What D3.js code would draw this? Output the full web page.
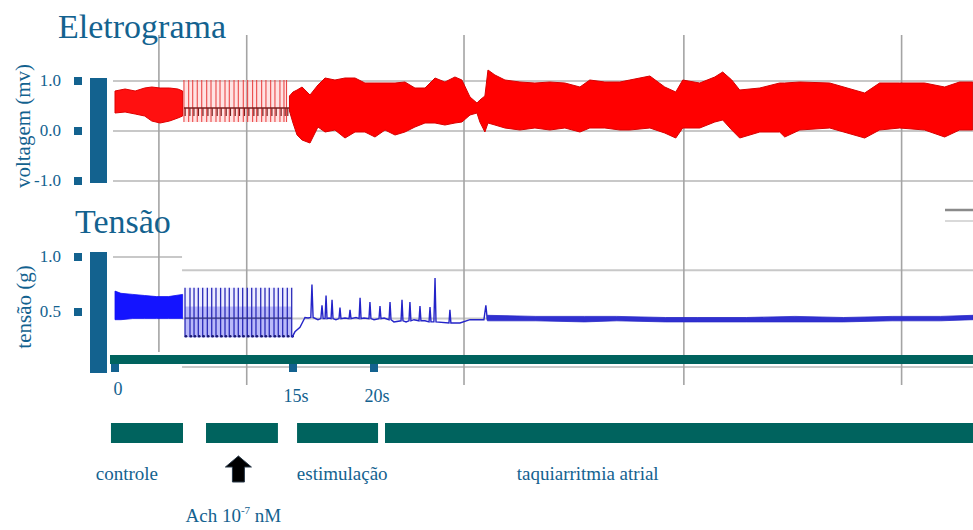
<!DOCTYPE html>
<html>
<head>
<meta charset="utf-8">
<script src="https://cdn.jsdelivr.net/npm/d3@7"></script>
<style>
body{margin:0;background:#fff}
svg{display:block}
</style>
</head>
<body>
<div id="chart"></div>
<script>
const width = 973
const height = 530
const blue = "#13628f"
const teal = "#00635e"
const serif = "'Liberation Serif', 'DejaVu Serif', serif"

// time axis (s)
const timeTicks = [0, 15, 20]
const timeTickLabels = ["0", "15s", "20s"]
const gridTimes = [3.7, 11.1, 25.56, 39.14, 52.59]
const sectionSplit = 5.65

// voltage (mV)
const voltTicks = [1, 0, -1]
const voltTickLabels = ["1.0", "0.0", "-1.0"]
// tension (g)
const tensTicks = [1, 0.5]
const tensTickLabels = ["1.0", "0.5"]
const tensGridLeft = [1]
const tensGridRight = [0.88, 0.44, 0]

// eletrograma envelopes: [t, max, min]
const voltControle = [[0,0.80,0.36],[0.85,0.84,0.38],[1.7,0.80,0.34],[2.5,0.86,0.30],[3.1,0.88,0.20],
  [3.8,0.86,0.16],[4.6,0.86,0.20],[5.3,0.84,0.26],[5.7,0.80,0.30]]
const voltAchSpikes = [5.81,6.21,6.55,6.93,7.31,7.73,8.09,8.51,8.85,9.27,9.63,10.03,10.39,10.81,
  11.18,11.60,11.94,12.36,12.72,13.12,13.48,13.90,14.24,14.46]
const voltStim = [[14.7,0.70,0.40],[15.0,0.78,0.16],[15.25,0.82,-0.08],[15.56,0.88,-0.18],[16.05,0.72,-0.24],
  [16.54,0.92,0.08],[16.98,1.06,-0.02],[17.59,1.02,0.02],[18.21,1.06,-0.14],[18.83,1.06,-0.02],
  [19.44,0.96,-0.02],[20.06,0.96,-0.12],[20.68,0.96,0.02],[21.30,0.96,-0.08],[21.91,0.98,-0.02],
  [22.53,0.86,0.08],[23.15,0.86,0.16],[23.77,1.06,0.16],[24.38,0.98,0.12],[25.0,1.08,0.16],
  [25.43,1.02,0.18],[25.93,0.68,0.32],[26.36,0.56,0.36],[26.54,0.62,0.18],[26.85,0.70,-0.02],
  [27.04,1.22,0.16],[27.47,1.12,0.12],[28.09,1.02,0.06],[29.01,0.98,0.02],[29.94,0.96,0.06],
  [30.86,0.98,0.02],[31.79,0.96,0.06],[32.72,0.88,-0.02],[33.33,1.02,0.06],[34.26,0.98,0.06],
  [35.19,0.98,0.02],[35.80,1.02,0.02],[37.04,1.10,0.06],[37.96,0.88,-0.04],[38.64,0.78,-0.14],
  [39.07,1.02,0.06],[40.12,0.96,0.06],[41.05,1.08,0.18],[41.54,1.18,0.22],[42.10,1.02,0.02],
  [42.59,0.82,-0.14],[43.83,0.86,-0.02],[45.06,0.96,-0.02],[45.37,0.96,-0.12],[46.30,0.98,0.02],
  [48.15,0.96,0.06],[50.31,0.76,-0.14],[51.23,0.96,0.02],[52.47,0.96,0.06],[54.01,0.96,0.02],
  [55.25,0.88,-0.12],[56.17,0.98,0.02],[56.98,0.98,0.02]]

// tensão
const tensControle = [[0,0.69,0.43],[0.5,0.67,0.43],[1.5,0.66,0.44],[2.5,0.65,0.44],[3.5,0.64,0.44],
  [4.5,0.64,0.44],[5.7,0.66,0.44]]
const tensAchSpikes = [5.90,6.32,6.66,7.02,7.39,7.78,8.15,8.51,8.90,9.27,9.63,10.03,10.39,10.76,
  11.15,11.52,11.88,12.28,12.64,13.00,13.40,13.76,14.13,14.52,14.89]
const tensStim = [[14.92,0.27],[15.12,0.32],[15.43,0.36],[15.74,0.45],[15.93,0.445],[16.10,0.45],[16.17,0.75],
  [16.24,0.45],[16.54,0.43],[16.72,0.44],[16.79,0.56],[16.86,0.44],[16.98,0.44],[17.04,0.65],[17.10,0.44],
  [17.22,0.445],[17.35,0.44],[17.41,0.61],[17.47,0.44],[17.65,0.43],[17.84,0.44],[17.90,0.54],[17.96,0.44],
  [18.21,0.445],[18.46,0.44],[18.52,0.52],[18.58,0.44],[18.89,0.45],[19.08,0.44],[19.14,0.63],[19.20,0.44],
  [19.38,0.445],[19.69,0.44],[19.75,0.59],[19.81,0.44],[20.0,0.43],[20.31,0.44],[20.37,0.555],[20.43,0.44],
  [20.62,0.445],[20.93,0.43],[20.99,0.59],[21.05,0.43],[21.23,0.41],[21.67,0.42],[21.73,0.61],[21.79,0.42],
  [21.98,0.41],[22.16,0.42],[22.22,0.59],[22.28,0.42],[22.47,0.43],[22.78,0.42],[22.84,0.555],[22.90,0.42],
  [23.15,0.42],[23.40,0.41],[23.46,0.545],[23.52,0.41],[23.70,0.41],[23.77,0.81],[23.83,0.41],[24.63,0.40],
  [24.69,0.52],[24.75,0.40],[25.31,0.40],[25.93,0.43],[26.79,0.43],[26.91,0.56],[27.0,0.43]]
const tensTail = [[27.0,0.47,0.42],[30,0.46,0.42],[33,0.46,0.41],[35,0.46,0.42],[38,0.45,0.41],
  [40,0.45,0.41],[43,0.45,0.41],[46,0.46,0.41],[49,0.45,0.41],[52,0.46,0.42],[55,0.46,0.42],[57,0.47,0.43]]

// protocol phases
const phaseNames = ["controle", "", "estimulação", "taquiarritmia atrial"]
const phaseStart = [-0.34, 7.67, 15.25, 20.68]
const phaseEnd = [5.73, 13.73, 20.25, 57]
const phaseLabelAt = [1.0, 0, 18.04, 33.2]
const achTime = 10.4

const svg = d3.select("#chart").append("svg")
  .attr("width", width)
  .attr("height", height)
  .attr("viewBox", [0, 0, width, height])
  .attr("font-family", serif)
  .style("font-family", serif)

const x = d3.scaleLinear().domain([0, 15, 20, 57]).range([115, 293, 374, 973])
const yV = d3.scaleLinear().domain([-1, 1]).range([181, 81])
const yT = d3.scaleLinear().domain([0.5, 1]).range([312, 257])

const xLeft = 113
const xSplit = x(sectionSplit)

// grid
const grid = svg.append("g").attr("stroke-width", 2).attr("stroke", "#c8c8c8")
for (const v of voltTicks) {
  grid.append("line").attr("x1", xLeft).attr("x2", width).attr("y1", yV(v)).attr("y2", yV(v))
}
for (const v of tensGridLeft) {
  grid.append("line").attr("x1", xLeft).attr("x2", xSplit).attr("y1", yT(v)).attr("y2", yT(v))
}
for (const v of tensGridRight) {
  grid.append("line").attr("x1", xSplit).attr("x2", width).attr("y1", yT(v)).attr("y2", yT(v))
}
gridTimes.forEach((t, i) => {
  grid.append("line")
    .attr("x1", x(t)).attr("x2", x(t))
    .attr("y1", 35).attr("y2", i == 0 ? 352 : 385)
    .attr("stroke", "#a4a4a4").attr("stroke-width", 1.6)
})
grid.append("line").attr("x1", 945).attr("x2", width).attr("y1", 210).attr("y2", 210)
  .attr("stroke", "#8a8a8a").attr("stroke-width", 2.5)
grid.append("line").attr("x1", 945).attr("x2", width).attr("y1", 221).attr("y2", 221)
  .attr("stroke", "#cccccc").attr("stroke-width", 1.5)

// titles
svg.append("text").text("Eletrograma").attr("x", 58).attr("y", 38)
  .attr("font-size", 34).attr("fill", blue)
svg.append("text").text("Tensão").attr("x", 75).attr("y", 233)
  .attr("font-size", 34).attr("fill", blue)

svg.append("text").text("voltagem (mv)")
  .attr("transform", "translate(30,126) rotate(-90)")
  .attr("text-anchor", "middle").attr("font-size", 21).attr("fill", blue)
svg.append("text").text("tensão (g)")
  .attr("transform", "translate(31,307) rotate(-90)")
  .attr("text-anchor", "middle").attr("font-size", 21).attr("fill", blue)

// y axes
function yAxis(scale, ticks, labels, barTop, barBottom) {
  ticks.forEach((v, i) => {
    svg.append("text").text(labels[i])
      .attr("x", 61).attr("y", scale(v) + 5)
      .attr("text-anchor", "end").attr("font-size", 17).attr("fill", blue)
    svg.append("rect")
      .attr("x", 74).attr("y", scale(v) - 4)
      .attr("width", 8).attr("height", 8).attr("fill", blue)
  })
  svg.append("rect")
    .attr("x", 90).attr("y", barTop)
    .attr("width", 17).attr("height", barBottom - barTop).attr("fill", blue)
}
yAxis(yV, voltTicks, voltTickLabels, 78, 183)
yAxis(yT, tensTicks, tensTickLabels, 252, 373)

// eletrograma trace
const voltArea = d3.area()
  .x(d => x(d[0])).y0(d => yV(d[2])).y1(d => yV(d[1]))

svg.append("path").datum(voltControle).attr("d", voltArea)
  .attr("fill", "#ff1010").attr("stroke", "#e00000").attr("stroke-width", 1)

const achV = d3.extent(voltAchSpikes)
svg.append("rect")
  .attr("x", x(achV[0])).attr("y", yV(1.02))
  .attr("width", x(achV[1]) - x(achV[0])).attr("height", yV(0.18) - yV(1.02))
  .attr("fill", "#ffb0b0").attr("opacity", 0.35)
for (const t of voltAchSpikes) {
  svg.append("line")
    .attr("x1", x(t)).attr("x2", x(t))
    .attr("y1", yV(1.02)).attr("y2", yV(0.18))
    .attr("stroke", "#e83a3a").attr("stroke-width", 1)
  svg.append("line")
    .attr("x1", x(t) + 1.2).attr("x2", x(t) + 1.2)
    .attr("y1", yV(0.46)).attr("y2", yV(0.30))
    .attr("stroke", "#7a2020").attr("stroke-width", 1.2)
}
svg.append("line")
  .attr("x1", x(achV[0])).attr("x2", x(achV[1]) + 3)
  .attr("y1", yV(0.46)).attr("y2", yV(0.46))
  .attr("stroke", "#7a2020").attr("stroke-width", 1.3)

svg.append("path").datum(voltStim).attr("d", voltArea)
  .attr("fill", "#ff0000").attr("stroke", "#d80000").attr("stroke-width", 1)

// tensão trace
const tensArea = d3.area()
  .x(d => x(d[0])).y0(d => yT(d[2])).y1(d => yT(d[1]))

svg.append("path").datum(tensControle).attr("d", tensArea)
  .attr("fill", "#1414ff").attr("stroke", "#1010f0").attr("stroke-width", 0.8)

const achT = d3.extent(tensAchSpikes)
svg.append("rect")
  .attr("x", x(achT[0])).attr("y", yT(0.72))
  .attr("width", x(achT[1]) - x(achT[0])).attr("height", yT(0.55) - yT(0.72))
  .attr("fill", "#b8b8ff").attr("opacity", 0.25)
svg.append("rect")
  .attr("x", x(achT[0])).attr("y", yT(0.55))
  .attr("width", x(achT[1]) - x(achT[0])).attr("height", yT(0.27) - yT(0.55))
  .attr("fill", "#8080f4").attr("opacity", 0.55)
for (const t of tensAchSpikes) {
  svg.append("line")
    .attr("x1", x(t)).attr("x2", x(t))
    .attr("y1", yT(0.72)).attr("y2", yT(0.27))
    .attr("stroke", "#2a2ab8").attr("stroke-width", 1.3)
  svg.append("circle")
    .attr("cx", x(t) + 1).attr("cy", yT(0.28)).attr("r", 1.3)
    .attr("fill", "#1a1a70")
}
svg.append("line")
  .attr("x1", x(achT[0])).attr("x2", x(achT[1]))
  .attr("y1", yT(0.445)).attr("y2", yT(0.445))
  .attr("stroke", "#303080").attr("stroke-width", 1.2)

svg.append("path").datum(tensStim)
  .attr("d", d3.line().x(d => x(d[0])).y(d => yT(d[1])))
  .attr("fill", "none").attr("stroke", "#2424c8").attr("stroke-width", 1.4)
svg.append("path").datum(tensTail).attr("d", tensArea)
  .attr("fill", "#3030d0").attr("stroke", "#2a2ac8").attr("stroke-width", 0.8)

// time axis
svg.append("rect")
  .attr("x", 110).attr("y", 355)
  .attr("width", width - 110).attr("height", 9).attr("fill", teal)
timeTicks.forEach((t, i) => {
  svg.append("rect")
    .attr("x", x(t) - 4).attr("y", 364)
    .attr("width", 8).attr("height", 8).attr("fill", blue)
  svg.append("text").text(timeTickLabels[i])
    .attr("x", x(t) + 3).attr("y", t == 0 ? 395 : 402)
    .attr("text-anchor", "middle").attr("font-size", 18).attr("fill", blue)
})

// phases
phaseNames.forEach((name, i) => {
  svg.append("rect")
    .attr("x", x(phaseStart[i])).attr("y", 423)
    .attr("width", x(phaseEnd[i]) - x(phaseStart[i])).attr("height", 20)
    .attr("fill", teal)
  if (name) {
    svg.append("text").text(name)
      .attr("x", x(phaseLabelAt[i])).attr("y", 480)
      .attr("text-anchor", "middle").attr("font-size", 19).attr("fill", blue)
  }
})

const ax = x(achTime)
svg.append("path")
  .attr("d", `M${ax},456 L${ax + 13},467 L${ax + 6},467 L${ax + 6},482 L${ax - 6},482 L${ax - 6},467 L${ax - 13},467 Z`)
  .attr("fill", "#000").attr("stroke", "#2a3a4a").attr("stroke-width", 1)

const achLabel = svg.append("text")
  .attr("x", x(achTime) - 5).attr("y", 522)
  .attr("text-anchor", "middle").attr("font-size", 19).attr("fill", blue)
achLabel.append("tspan").text("Ach 10")
achLabel.append("tspan").text("-7").attr("font-size", 11).attr("dy", -8)
achLabel.append("tspan").text(" nM").attr("dy", 8)
</script>
</body>
</html>
